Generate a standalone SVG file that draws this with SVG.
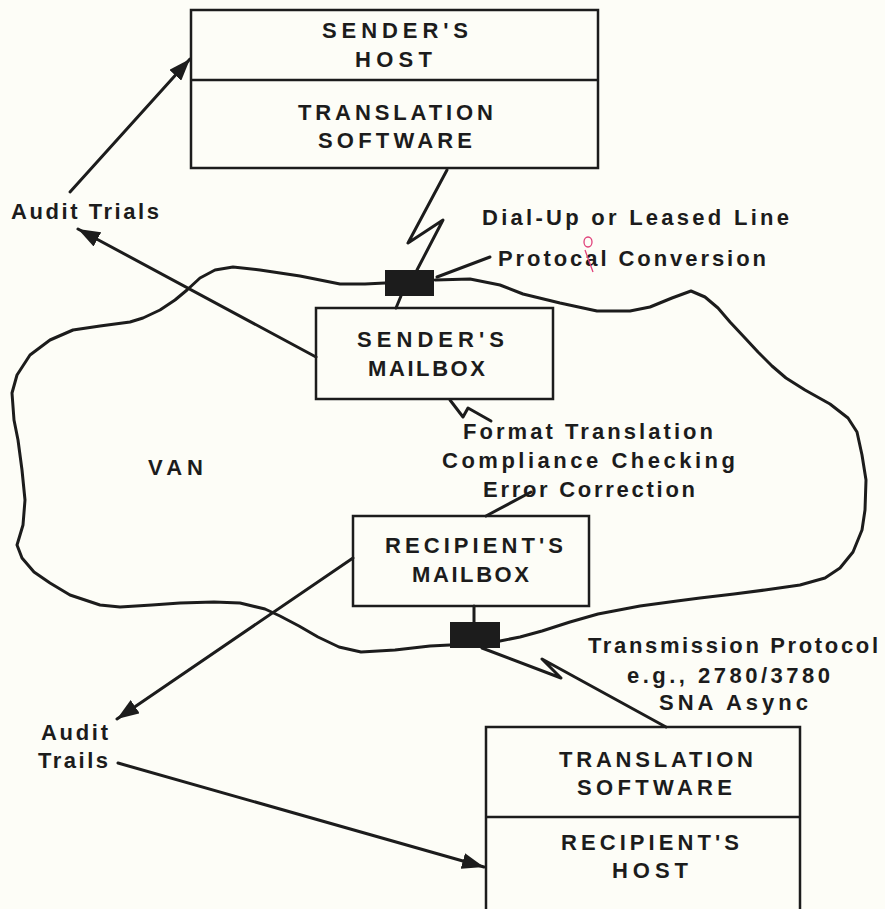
<svg xmlns="http://www.w3.org/2000/svg" width="885" height="909" viewBox="0 0 885 909">
<defs>
<style>
.t{font-family:"Liberation Sans",Arial,sans-serif;font-weight:bold;font-size:22px;fill:#1c1c1c}
.box{fill:none;stroke:#1c1c1c;stroke-width:2.5}
.ln{fill:none;stroke:#1c1c1c;stroke-width:3;stroke-linejoin:round;stroke-linecap:round}
.blk{fill:#1c1c1c}
</style>
<marker id="ah" markerWidth="24" markerHeight="16" refX="22" refY="8" orient="auto" markerUnits="userSpaceOnUse"><path d="M0,0 L22,8 L0,16 z" fill="#1c1c1c"/></marker>
</defs>
<rect x="0" y="0" width="885" height="909" fill="#fdfdf7"/>

<g id="van-cloud">
<polyline class="ln" points="435,280 470,279 500,285 523,294 560,303 597,311 630,311 650,307 672,298 691,291 705,297 718,308 730,322 745,338 758,352 772,366 786,378 805,390 830,404 848,418 857,432 862,455 866,480 865,510 862,530 853,552 840,568 825,578 800,585 765,590 734,594 700,598 677,601 640,606 598,614 570,622 542,631 520,637 500,641"/>
<polyline class="ln" points="450,645 430,646 395,650 361,652 339,647 318,637 299,626 280,616 265,609 240,603 214,602 180,603 152,605 120,607 100,605 70,595 50,583 34,572 22,558 17,545 23,525 25,500 22,470 18,440 14,420 12,393 17,375 30,355 50,340 73,330 100,326 130,322 143,318 160,310 175,300 187,290 200,278 215,270 233,267 260,270 300,276 340,284 365,284 385,283"/>
<text class="t" x="148" y="475" textLength="55" lengthAdjust="spacing">VAN</text>
</g>

<g id="senders-host">
<rect class="box" x="191" y="10" width="407" height="158"/>
<line class="box" x1="191" y1="80" x2="598" y2="80"/>
<text class="t" x="322" y="38" textLength="146" lengthAdjust="spacing">SENDER'S</text>
<text class="t" x="355" y="67" textLength="77" lengthAdjust="spacing">HOST</text>
<text class="t" x="298" y="120" textLength="195" lengthAdjust="spacing">TRANSLATION</text>
<text class="t" x="318" y="148" textLength="154" lengthAdjust="spacing">SOFTWARE</text>
</g>

<g id="senders-mailbox">
<rect class="box" x="316" y="308" width="237" height="91"/>
<text class="t" x="357" y="347" textLength="147" lengthAdjust="spacing">SENDER'S</text>
<text class="t" x="368" y="376" textLength="117" lengthAdjust="spacing">MAILBOX</text>
</g>

<g id="recipients-mailbox">
<rect class="box" x="353" y="516" width="236" height="90"/>
<text class="t" x="385" y="553" textLength="178" lengthAdjust="spacing">RECIPIENT'S</text>
<text class="t" x="412" y="582" textLength="117" lengthAdjust="spacing">MAILBOX</text>
</g>

<g id="recipients-host">
<polyline class="box" points="486,909 486,727 800,727 800,909"/>
<line class="box" x1="486" y1="817" x2="800" y2="817"/>
<text class="t" x="559" y="767" textLength="194" lengthAdjust="spacing">TRANSLATION</text>
<text class="t" x="577" y="795" textLength="155" lengthAdjust="spacing">SOFTWARE</text>
<text class="t" x="561" y="850" textLength="178" lengthAdjust="spacing">RECIPIENT'S</text>
<text class="t" x="612" y="878" textLength="76" lengthAdjust="spacing">HOST</text>
</g>

<g id="gateway-top"><rect class="blk" x="385" y="270" width="49" height="26"/></g>
<g id="gateway-bottom"><rect class="blk" x="450" y="622" width="50" height="26"/></g>

<g id="labels">
<text class="t" x="11" y="219" textLength="148" lengthAdjust="spacing">Audit Trials</text>
<text class="t" x="482" y="225" textLength="307" lengthAdjust="spacing">Dial-Up or Leased Line</text>
<text class="t" x="498" y="266" textLength="268" lengthAdjust="spacing">Protocal Conversion</text>
<text class="t" x="463" y="439" textLength="250" lengthAdjust="spacing">Format Translation</text>
<text class="t" x="442" y="468" textLength="293" lengthAdjust="spacing">Compliance Checking</text>
<text class="t" x="483" y="497" textLength="212" lengthAdjust="spacing">Error Correction</text>
<text class="t" x="588" y="653" textLength="290" lengthAdjust="spacing">Transmission Protocol</text>
<text class="t" x="627" y="683" textLength="203" lengthAdjust="spacing">e.g., 2780/3780</text>
<text class="t" x="659" y="710" textLength="149" lengthAdjust="spacing">SNA Async</text>
<text class="t" x="41" y="740" textLength="67" lengthAdjust="spacing">Audit</text>
<text class="t" x="38" y="768" textLength="70" lengthAdjust="spacing">Trails</text>
<ellipse cx="588" cy="242" rx="4" ry="5" fill="none" stroke="#e0407a" stroke-width="1.3"/>
<line x1="585" y1="250" x2="593" y2="272" stroke="#e0407a" stroke-width="1.3"/>
</g>

<g id="connectors">
<polyline class="ln" points="447,170 408,243 443,220 417,270"/>
<line class="ln" x1="401" y1="296" x2="396" y2="308"/>
<line class="ln" x1="437" y1="277" x2="490" y2="257"/>
<polyline class="ln" points="450,400 463,417 468,408 491,421"/>
<line class="ln" x1="531" y1="492" x2="486" y2="516"/>
<line class="ln" x1="474" y1="606" x2="474" y2="622"/>
<polyline class="ln" points="482,648 561,678 542,659 666,727"/>
<line class="ln" x1="70" y1="192" x2="190" y2="59" marker-end="url(#ah)"/>
<line class="ln" x1="316" y1="357" x2="78" y2="229" marker-end="url(#ah)"/>
<line class="ln" x1="353" y1="558" x2="117" y2="719" marker-end="url(#ah)"/>
<line class="ln" x1="118" y1="763" x2="484" y2="867" marker-end="url(#ah)"/>
</g>
</svg>
